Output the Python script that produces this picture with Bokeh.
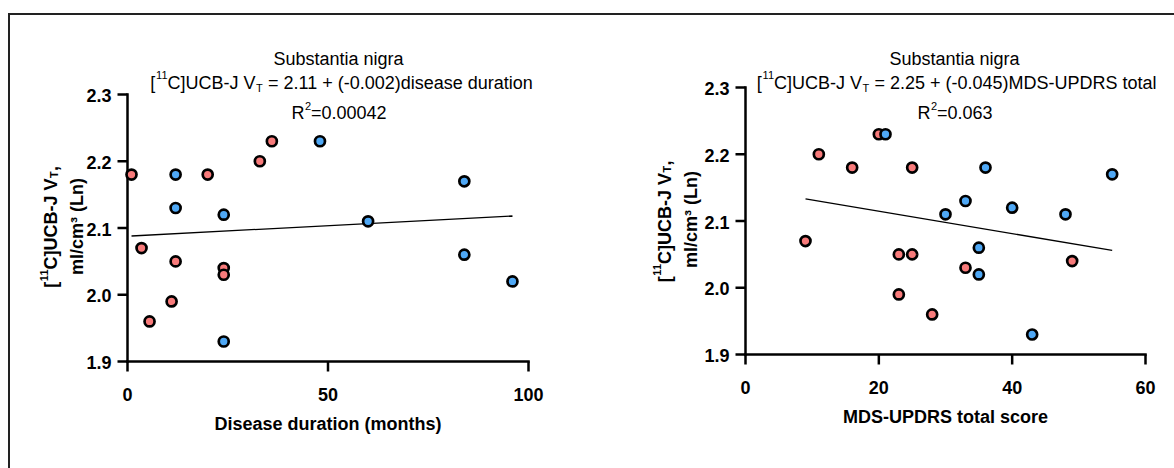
import math
from bokeh.plotting import figure
from bokeh.layouts import row
from bokeh.models import Range1d, InlineStyleSheet
from bokeh.core.properties import value
from bokeh.embed import file_html
from bokeh.resources import INLINE

# ---------------- data ----------------
dur_red_x = [1, 3.5, 5.5, 11, 12, 20, 24, 24, 33, 36]
dur_red_y = [2.18, 2.07, 1.96, 1.99, 2.05, 2.18, 2.04, 2.03, 2.20, 2.23]
dur_blue_x = [12, 12, 24, 24, 48, 60, 84, 84, 96]
dur_blue_y = [2.18, 2.13, 2.12, 1.93, 2.23, 2.11, 2.17, 2.06, 2.02]
dur_fit_x = [1, 96]
dur_fit_y = [2.088, 2.118]

upd_red_x = [20, 11, 16, 25, 9, 23, 25, 33, 23, 28, 49]
upd_red_y = [2.23, 2.20, 2.18, 2.18, 2.07, 2.05, 2.05, 2.03, 1.99, 1.96, 2.04]
upd_blue_x = [21, 36, 55, 33, 40, 30, 48, 35, 35, 43]
upd_blue_y = [2.23, 2.18, 2.17, 2.13, 2.12, 2.11, 2.11, 2.06, 2.02, 1.93]
upd_fit_x = [9, 55]
upd_fit_y = [2.133, 2.056]

y_range_vals = (1.9, 2.3)
y_ticks = [1.9, 2.0, 2.1, 2.2, 2.3]
y_tick_labels = ["1.9", "2.0", "2.1", "2.2", "2.3"]
dur_x_range = (0, 100)
dur_x_ticks = [0, 50, 100]
dur_x_tick_labels = ["0", "50", "100"]
upd_x_range = (0, 60)
upd_x_ticks = [0, 20, 40, 60]
upd_x_tick_labels = ["0", "20", "40", "60"]

title_top = "Substantia nigra"
tracer_open, tracer_sup, tracer_rest, sub_t = "[", "11", "C]UCB-J V", "T"
dur_eq_b = "= 2.11 + (-0.002)disease duration"
upd_eq_b = "= 2.25 + (-0.045)MDS-UPDRS total"
r_main, r_sup = "R", "2"
dur_r2_val = "=0.00042"
upd_r2_val = "=0.063"
ylab_comma, ylab_2 = ",", "ml/cm\u00b3 (Ln)"
dur_xlabel = "Disease duration (months)"
upd_xlabel = "MDS-UPDRS total score"

RED = "#F87B7B"
BLUE = "#4FA8F5"
FONT = value("Liberation Sans")
OX, OY = 10, 15     # page position of the content origin (inside the frame border)
H = 453
W1 = 580
W2 = 1174 - OX - W1

# advance widths (px) of text runs in an Arial-metric font
W_REST_N, W_REST_B = 88.0, 91.0   # "C]UCB-J V" at 18px normal / bold
W_SUP = 12.2                       # "11" at 11px


class Panel:
    """A figure whose frame fills the canvas; page pixels <-> data via the figure's scales."""

    def __init__(self, box, frame, xr):
        X0, Y0, X1, Y1 = box
        L, T, R, B = frame
        self.frame, self.xr = frame, xr
        self.sx = (R - L) / (xr[1] - xr[0])
        self.sy = (B - T) / (y_range_vals[1] - y_range_vals[0])
        x_range = Range1d(xr[0] - (L - X0) / self.sx, xr[1] + (X1 - R) / self.sx)
        y_range = Range1d(y_range_vals[0] - (Y1 - B) / self.sy, y_range_vals[1] + (T - Y0) / self.sy)
        p = figure(width=X1 - X0, height=Y1 - Y0, x_range=x_range, y_range=y_range,
                   x_axis_type=None, y_axis_type=None,
                   output_backend="svg", toolbar_location=None,
                   min_border=0, min_border_left=0, min_border_right=0,
                   min_border_top=0, min_border_bottom=0)
        p.outline_line_color = None
        p.grid.visible = False
        p.background_fill_color = "white"
        p.border_fill_color = "white"
        self.p = p

    def xd(self, px):
        return self.xr[0] + (px - self.frame[0]) / self.sx

    def yd(self, py):
        return y_range_vals[1] - (py - self.frame[1]) / self.sy

    def text(self, px, py, txt, size="18px", align="left", bold=False, angle=0.0, baseline="alphabetic"):
        self.p.text(x=[self.xd(px)], y=[self.yd(py)], text=[txt], text_font=FONT,
                    text_font_size=size, text_align=align, text_baseline=baseline,
                    angle=angle, text_font_style="bold" if bold else "normal", text_color="black")

    def axes(self, xticks, xlabels, yticks, ylabels, xlabel):
        p = self.p
        L, T, R, B = self.frame
        tick = 10.0
        x0, x1 = self.xr
        y0, y1 = y_range_vals
        p.segment(x0=[x0], y0=[y0], x1=[x0], y1=[y1], line_color="black", line_width=2.5, line_cap="square")
        p.segment(x0=[x0], y0=[y0], x1=[x1], y1=[y0], line_color="black", line_width=2.5, line_cap="square")
        p.segment(x0=[x0] * len(yticks), y0=yticks, x1=[x0 - tick / self.sx] * len(yticks), y1=yticks,
                  line_color="black", line_width=2.5)
        p.segment(x0=xticks, y0=[y0] * len(xticks), x1=xticks, y1=[y0 - tick / self.sy] * len(xticks),
                  line_color="black", line_width=2.5)
        p.text(x=[x0 - 16 / self.sx] * len(yticks), y=[t - 1 / self.sy for t in yticks], text=ylabels,
               text_font=FONT, text_font_size="18px", text_font_style="bold",
               text_align="right", text_baseline="middle", text_color="black")
        p.text(x=xticks, y=[y0 - 32.5 / self.sy] * len(xticks), text=xlabels,
               text_font=FONT, text_font_size="18px", text_font_style="bold",
               text_align="center", text_baseline="alphabetic", text_color="black")
        self.text((L + R) / 2, B + 62, xlabel, bold=True, align="center")

    def titles(self, cx, split, eq_b, r_x, r2_val):
        self.text(cx, 58.5, title_top, align="center")
        # [11C]UCB-J V_T = ...
        self.text(split, 82.5, tracer_rest, align="right")
        self.text(split - W_REST_N, 74.5, tracer_sup, size="11px", align="right")
        self.text(split - W_REST_N - W_SUP, 82.5, tracer_open, align="right")
        self.text(split + 0.5, 87.5, sub_t, size="11px")
        self.text(split + 12.5, 82.5, eq_b)
        # R^2 = ...
        self.text(r_x, 112.7, r_main, align="right")
        self.text(r_x + 0.5, 105.5, r_sup, size="11px")
        self.text(r_x + 6.5, 112.7, r2_val)

    def ylabel(self, bx, split, cy):
        a = math.pi / 2
        self.text(bx, split, tracer_rest, align="right", bold=True, angle=a)
        self.text(bx - 7.5, split + W_REST_B, tracer_sup, size="11px", align="right", bold=True, angle=a)
        self.text(bx, split + W_REST_B + W_SUP, tracer_open, align="right", bold=True, angle=a)
        self.text(bx + 2.5, split - 0.5, sub_t, size="11px", bold=True, angle=a)
        self.text(bx, split - 7.5, ylab_comma, bold=True, angle=a)
        self.text(bx + 26, cy, ylab_2, align="center", bold=True, angle=a)

    def points(self, rx, ry, bx, by, fx, fy):
        p = self.p
        p.line(fx, fy, line_color="black", line_width=1.3)
        p.scatter(rx, ry, size=10, fill_color=RED, line_color="black", line_width=2.7)
        p.scatter(bx, by, size=10, fill_color=BLUE, line_color="black", line_width=2.7)


# left panel
left = Panel((OX, OY, OX + W1, OY + H), (127, 94, 528, 361), dur_x_range)
left.axes(dur_x_ticks, dur_x_tick_labels, y_ticks, y_tick_labels, dur_xlabel)
left.titles(338, 255, dur_eq_b, 304, dur_r2_val)
left.ylabel(50.5, 178, 226)
left.points(dur_red_x, dur_red_y, dur_blue_x, dur_blue_y, dur_fit_x, dur_fit_y)

# right panel
right = Panel((OX + W1, OY, OX + W1 + W2, OY + H), (745, 87, 1145, 354), upd_x_range)
right.axes(upd_x_ticks, upd_x_tick_labels, y_ticks, y_tick_labels, upd_xlabel)
right.titles(954, 861.5, upd_eq_b, 930, upd_r2_val)
right.ylabel(664, 172.5, 219)
right.points(upd_red_x, upd_red_y, upd_blue_x, upd_blue_y, upd_fit_x, upd_fit_y)

css = ":host { border-top: 2px solid #222; border-left: 2px solid #222; margin-left: 8px; margin-top: 13px; background: white; }"
layout = row(left.p, right.p, stylesheets=[InlineStyleSheet(css=css)])

open("out.html", "w").write(file_html(layout, INLINE))
